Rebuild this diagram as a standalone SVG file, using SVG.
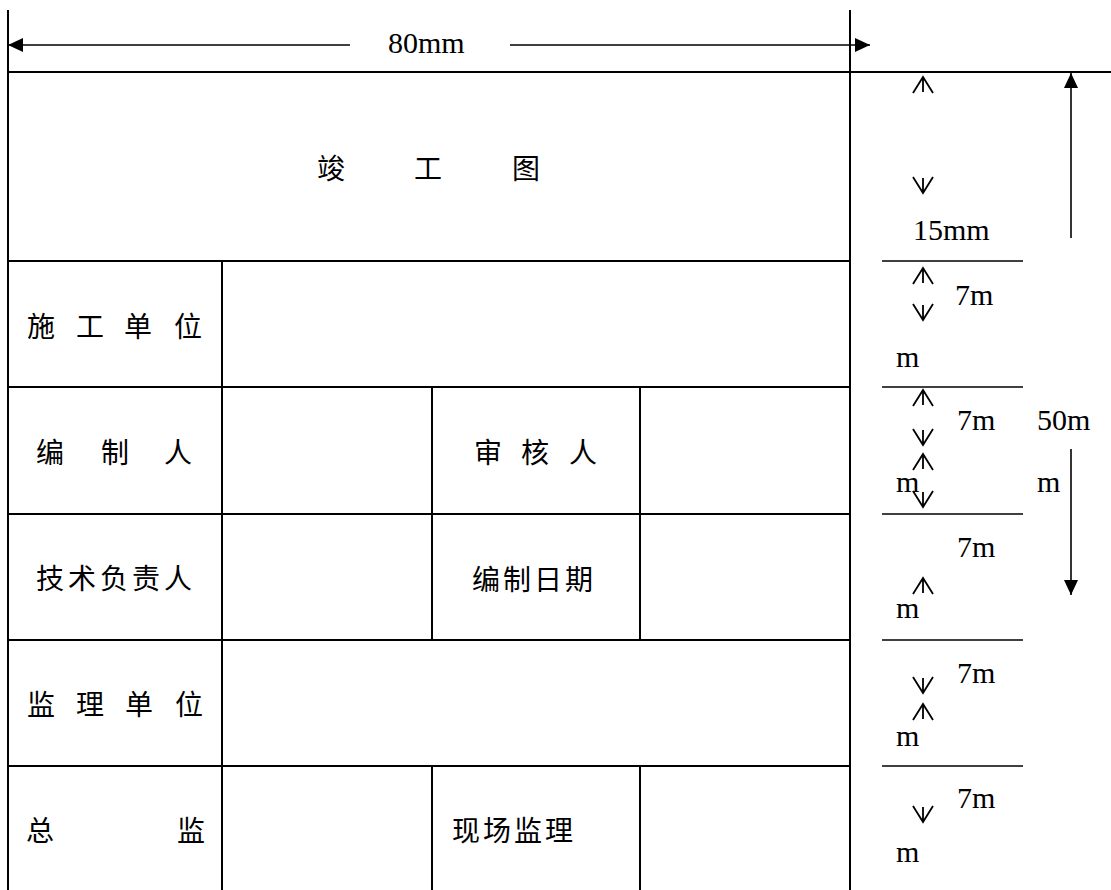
<svg xmlns="http://www.w3.org/2000/svg" width="1111" height="890" viewBox="0 0 1111 890">
<style>
.tl{stroke:#000;stroke-width:2;fill:none}
.dl{stroke:#000;stroke-width:1.6;fill:none}
.ch{stroke:#000;stroke-width:1.8;fill:none}
.cn{font-family:"Noto Sans CJK SC","Noto Sans CJK JP",sans-serif;font-size:28px;fill:#000;dominant-baseline:central}
.en{font-family:"Liberation Serif","Times New Roman",serif;font-size:30px;fill:#000}
</style>
<defs>
<marker id="arr" viewBox="0 0 15 14" refX="15" refY="7" markerWidth="15" markerHeight="14" markerUnits="userSpaceOnUse" orient="auto-start-reverse">
<path d="M0,0 L15,7 L0,14 z" fill="#000"/>
</marker>
<path id="up" d="M-10,16 L0,0 L10,16 M0,0 V15"/>
<path id="dn" d="M-10,-16 L0,0 L10,-16 M0,0 V-15"/>
</defs>
<rect width="1111" height="890" fill="#fff"/>

<g id="frame" class="tl">
<line x1="8" y1="10" x2="8" y2="890"/>
<line x1="850" y1="10" x2="850" y2="890"/>
<line x1="8" y1="72" x2="1111" y2="72"/>
<line x1="8" y1="261" x2="850" y2="261"/>
<line x1="8" y1="387" x2="850" y2="387"/>
<line x1="8" y1="514" x2="850" y2="514"/>
<line x1="8" y1="640" x2="850" y2="640"/>
<line x1="8" y1="766" x2="850" y2="766"/>
<line x1="222" y1="261" x2="222" y2="890"/>
<line x1="432" y1="387" x2="432" y2="640"/>
<line x1="432" y1="766" x2="432" y2="890"/>
<line x1="640" y1="387" x2="640" y2="640"/>
<line x1="640" y1="766" x2="640" y2="890"/>
</g>

<g id="title"><text class="cn" x="317 414 512" y="167">竣工图</text></g>
<g id="shigong"><text class="cn" x="27 76 124 174" y="325">施工单位</text></g>
<g id="bianzhiren"><text class="cn" x="36 101 164" y="451">编制人</text></g>
<g id="shenheren"><text class="cn" x="474 521 569" y="451">审核人</text></g>
<g id="jishu"><text class="cn" x="36 68 100 132 164" y="577">技术负责人</text></g>
<g id="riqi"><text class="cn" x="472 503 534 565" y="578">编制日期</text></g>
<g id="jianli"><text class="cn" x="27 76 125 175" y="703">监理单位</text></g>
<g id="zongjian"><text class="cn" x="26 177" y="829">总监</text></g>
<g id="xianchang"><text class="cn" x="452 483 514 545" y="829">现场监理</text></g>

<g id="connectors">
<line class="dl" x1="350" y1="45" x2="8" y2="45" marker-end="url(#arr)"/>
<line class="dl" x1="510" y1="45" x2="870" y2="45" marker-end="url(#arr)"/>
<line class="dl" x1="1071" y1="238" x2="1071" y2="73" marker-end="url(#arr)"/>
<line class="dl" x1="1071" y1="449" x2="1071" y2="595" marker-end="url(#arr)"/>
<g class="dl">
<line x1="882" y1="261" x2="1023" y2="261"/>
<line x1="882" y1="387" x2="1023" y2="387"/>
<line x1="882" y1="514" x2="1023" y2="514"/>
<line x1="882" y1="640" x2="1023" y2="640"/>
<line x1="882" y1="766" x2="1023" y2="766"/>
</g>
<g class="ch">
<use href="#up" x="923" y="77"/>
<use href="#dn" x="923" y="193"/>
<use href="#up" x="923" y="268"/>
<use href="#dn" x="923" y="320"/>
<use href="#up" x="923" y="390"/>
<use href="#dn" x="923" y="445"/>
<use href="#up" x="923" y="454"/>
<use href="#dn" x="923" y="507"/>
<use href="#up" x="923" y="578"/>
<use href="#dn" x="923" y="693"/>
<use href="#up" x="923" y="704"/>
<use href="#dn" x="923" y="822"/>
</g>
</g>

<g id="dims">
<text class="en" x="388" y="53">80mm</text>
<text class="en" x="913" y="240">15mm</text>
<text class="en" x="955" y="305">7m</text>
<text class="en" x="896" y="367">m</text>
<text class="en" x="957" y="430">7m</text>
<text class="en" x="1037" y="430">50m</text>
<text class="en" x="896" y="492">m</text>
<text class="en" x="1037" y="492">m</text>
<text class="en" x="957" y="557">7m</text>
<text class="en" x="896" y="618">m</text>
<text class="en" x="957" y="683">7m</text>
<text class="en" x="896" y="746">m</text>
<text class="en" x="957" y="808">7m</text>
<text class="en" x="896" y="862">m</text>
</g>
</svg>
